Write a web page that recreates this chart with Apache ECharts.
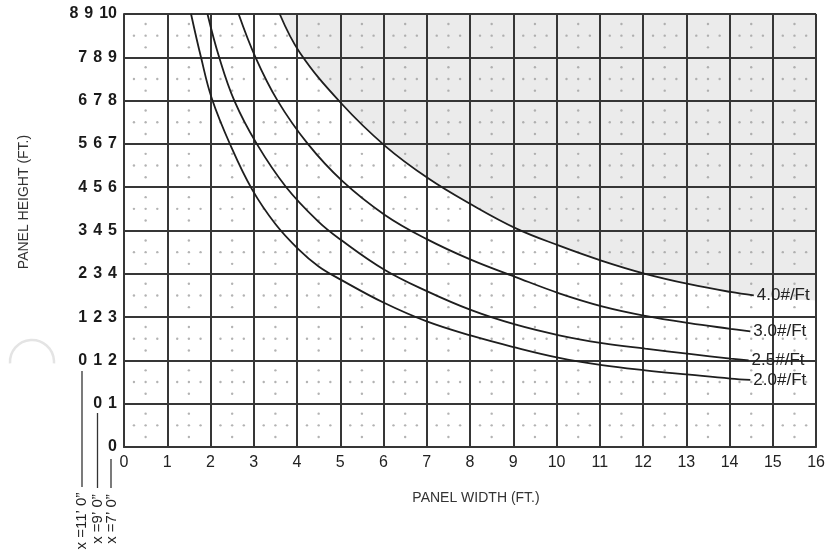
<!DOCTYPE html>
<html><head><meta charset="utf-8">
<script src="https://cdn.jsdelivr.net/npm/echarts@6/dist/echarts.min.js"></script>
<style>html,body{margin:0;padding:0;background:#fff}#c{width:828px;height:556px}</style>
</head><body><div id="c"></div>
<script>
// ---- data ----
const xTicks = [0,1,2,3,4,5,6,7,8,9,10,11,12,13,14,15,16];
const yTicks = [0,1,2,3,4,5,6,7,8,9,10];
const curveNames = ['2.0#/Ft','2.5#/Ft','3.0#/Ft','4.0#/Ft'];
const c20X = [1.55,1.78,2.03,2.47,2.96,3.5,4.03,4.5,5.02,6.01,7.0,8.03,9.04,10.06,11.05,12.05,13.07,14.02,14.48];
const c20Y = [10,9,8.05,6.95,5.95,5.15,4.57,4.17,3.86,3.33,2.9,2.57,2.3,2.06,1.89,1.77,1.67,1.58,1.55];
const c25X = [1.93,2.2,2.55,3.07,3.75,4.5,5.02,6.01,7.0,8.03,9.04,10.06,11.05,12.05,13.07,14.02,14.44];
const c25Y = [10,9,8,7,6,5.2,4.78,4.1,3.6,3.16,2.83,2.58,2.4,2.27,2.15,2.04,2.0];
const c30X = [2.65,3.04,3.55,4.25,5.05,6.03,7.0,8.03,9.04,10.06,11.05,12.05,13.07,14.02,14.48];
const c30Y = [10,9,8,7,6.14,5.36,4.8,4.32,3.93,3.55,3.25,3.03,2.86,2.73,2.67];
const c40X = [3.6,4.07,5.01,6.04,7.04,8.03,9.06,10.06,11.05,12.05,13.07,14.02,14.56];
const c40Y = [10,9.1,7.95,6.95,6.2,5.6,5.05,4.65,4.3,4.0,3.76,3.58,3.5];
// upper edge of the grey shaded zone (follows the 4.0#/Ft curve to the right edge)
const shadeX = c40X.concat([16]);
const shadeY = c40Y.concat([3.38]);
// the three height scales printed on the left axis
const scaleNames = ['x =11\u2019 0\u201D','x =9\u2019 0\u201D','x =7\u2019 0\u201D'];
const scaleShift = [2,1,0];

const zip = (xs, ys) => xs.map((x,i)=>[x, ys[i]]);
const curves = [[c20X,c20Y],[c25X,c25Y],[c30X,c30Y],[c40X,c40Y]];

// decorative dot pattern in each cell
const dots = [];
for (let i=0;i<16;i++) for (let j=0;j<10;j++) {
  const cx=i+0.5, cy=j+0.5, a=0.27;
  dots.push([cx,cy],[cx-a,cy],[cx+a,cy],[cx,cy-a],[cx,cy+a]);
}

const FONT = 'Liberation Sans, Arial, sans-serif';
const chart = echarts.init(document.getElementById('c'), null, {renderer:'canvas'});

const series = [
  {type:'line', data: zip(shadeX, shadeY), showSymbol:false, smooth:0.4,
   lineStyle:{opacity:0}, areaStyle:{origin:'end', color:'#ebebeb', opacity:1}, z:1, silent:true},
  {type:'scatter', data: dots, symbolSize:2.4, itemStyle:{color:'#a0a0a0'}, z:2, silent:true}
];
curves.forEach((c,k)=>{
  series.push({type:'line', name: curveNames[k], data: zip(c[0], c[1]), showSymbol:false,
    smooth:0.4, lineStyle:{color:'#1e1e1e', width:1.8}, z:5, silent:true,
    endLabel:{show:true, formatter: curveNames[k], fontFamily:FONT, fontSize:17, color:'#222', distance:3}});
});

chart.setOption({
  animation:false,
  backgroundColor:'#ffffff',
  grid:{left:124, right:5, top:14, bottom:109, containLabel:false},
  xAxis:{type:'value', min:0, max:16, interval:1, z:3,
    axisLine:{show:true, lineStyle:{color:'#363636', width:2}},
    axisTick:{show:false},
    splitLine:{show:true, lineStyle:{color:'#363636', width:2}},
    axisLabel:{fontFamily:FONT, fontSize:16, color:'#222', margin:8,
      formatter: v => xTicks.indexOf(v) >= 0 ? String(v) : ''}},
  yAxis:{type:'value', min:0, max:10, interval:1, z:3,
    axisLine:{show:true, lineStyle:{color:'#363636', width:2}},
    axisTick:{show:false},
    splitLine:{show:true, lineStyle:{color:'#363636', width:2}},
    axisLabel:{margin:7,
      formatter: v => {
        if (yTicks.indexOf(v) < 0) return '';
        const parts = scaleShift.map(s => v - s).filter(n => n >= 0);
        return parts.map(n => '{d|' + n + '}').join('{g| }');
      },
      rich:{d:{fontFamily:FONT, fontSize:16, fontWeight:'bold', color:'#1a1a1a'}, g:{width:6, fontSize:16}}}},
  series: series,
  graphic:[
    {type:'text', x:24, y:202, rotation:Math.PI/2,
     style:{text:'PANEL HEIGHT (FT.)', font:'14px Liberation Sans', fill:'#333', align:'center', verticalAlign:'middle'}},
    {type:'text', x:476, y:498,
     style:{text:'PANEL WIDTH (FT.)', font:'14px Liberation Sans', fill:'#333', align:'center', verticalAlign:'middle'}},
    {type:'line', shape:{x1:82, y1:371, x2:82, y2:487}, style:{stroke:'#333', lineWidth:1.3}},
    {type:'line', shape:{x1:97.5, y1:413, x2:97.5, y2:488}, style:{stroke:'#333', lineWidth:1.3}},
    {type:'line', shape:{x1:111, y1:459, x2:111, y2:488}, style:{stroke:'#333', lineWidth:1.3}},
    {type:'text', x:82, y:521, rotation:Math.PI/2,
     style:{text:scaleNames[0], font:'15px Liberation Sans', fill:'#222', align:'center', verticalAlign:'middle'}},
    {type:'text', x:97.5, y:519, rotation:Math.PI/2,
     style:{text:scaleNames[1], font:'15px Liberation Sans', fill:'#222', align:'center', verticalAlign:'middle'}},
    {type:'text', x:112, y:519, rotation:Math.PI/2,
     style:{text:scaleNames[2], font:'15px Liberation Sans', fill:'#222', align:'center', verticalAlign:'middle'}},
    {type:'arc', shape:{cx:32, cy:362, r:22, startAngle:Math.PI*0.98, endAngle:Math.PI*2.02},
     style:{stroke:'#e4e4e4', lineWidth:2.5, fill:null}}
  ]
});
</script></body></html>
